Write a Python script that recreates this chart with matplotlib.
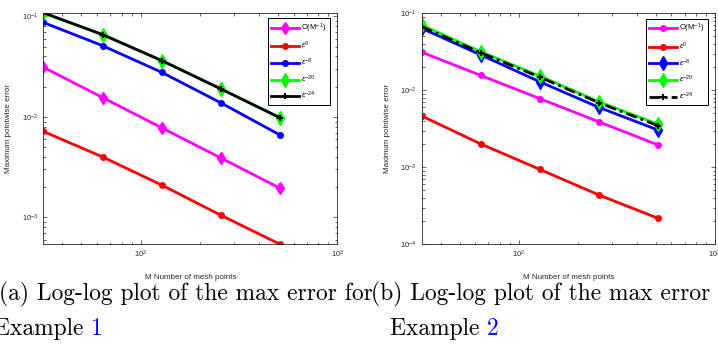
import matplotlib
matplotlib.use("Agg")
import matplotlib.pyplot as plt
from matplotlib.ticker import LogLocator, NullFormatter

plt.rcParams['font.family'] = ['Liberation Sans', 'DejaVu Sans']
plt.rcParams['mathtext.fontset'] = 'custom'
plt.rcParams['mathtext.rm'] = 'Liberation Sans'
plt.rcParams['mathtext.it'] = 'Liberation Sans:italic'

# ---- data ----
M = [32, 64, 128, 256, 512]

ex1_order = [0.03125, 0.0156, 0.0078, 0.0039, 0.00195]
ex1_eps0 = [0.00718, 0.0040, 0.0021, 0.00105, 0.00054]
ex1_eps8 = [0.0872, 0.0512, 0.0278, 0.0138, 0.0066]
ex1_eps20 = [0.108, 0.066, 0.0364, 0.0190, 0.0098]
ex1_eps24 = [0.109, 0.066, 0.0364, 0.0190, 0.0098]

ex2_order = [0.03125, 0.0156, 0.0078, 0.0039, 0.00195]
ex2_eps0 = [0.00464, 0.00201, 0.00094, 0.000437, 0.000218]
ex2_eps8 = [0.0638, 0.0288, 0.0129, 0.0060, 0.00305]
ex2_eps20 = [0.0705, 0.0317, 0.01535, 0.0071, 0.00363]
ex2_eps24 = [0.067, 0.0308, 0.0148, 0.0069, 0.00347]

labels = [r'O(M$^{-1}$)', r'$\epsilon^{0}$', r'$\epsilon^{-8}$', r'$\epsilon^{-20}$', r'$\epsilon^{-24}$']
xlabel = 'M Number of mesh points'
ylabel = 'Maximum pointwise error'
caption_a = '(a) Log-log plot of the max error for'
caption_b = '(b) Log-log plot of the max error for'

W, H = 718, 353
fig = plt.figure(figsize=(W / 100, H / 100), dpi=100)

def px_axes(x0, y0, x1, y1):
    return fig.add_axes([x0 / W, 1 - y1 / H, (x1 - x0) / W, (y1 - y0) / H])

axc = '#262626'

def style(ax):
    ax.set_xscale('log')
    ax.set_yscale('log')
    for s in ax.spines.values():
        s.set_linewidth(0.6)
        s.set_color(axc)
    ax.tick_params(which='both', direction='in', top=True, right=True,
                   colors=axc, labelsize=5.5, width=0.5)
    ax.tick_params(which='major', length=3)
    ax.tick_params(which='minor', length=1.8)
    ax.xaxis.set_minor_locator(LogLocator(base=10, subs=range(2, 10)))
    ax.yaxis.set_minor_locator(LogLocator(base=10, subs=range(2, 10)))
    ax.xaxis.set_minor_formatter(NullFormatter())
    ax.yaxis.set_minor_formatter(NullFormatter())
    ax.set_xlabel(xlabel, fontsize=5.8, color=axc, labelpad=10)
    ax.set_ylabel(ylabel, fontsize=5.8, color=axc, labelpad=7)

lw = 2.0
# ---- left ----
ax1 = px_axes(43.3, 12.7, 337.3, 244.3)
ax1.plot(M, ex1_order, color=(1, 0, 1), lw=lw, marker='d', ms=6, label=labels[0])
ax1.plot(M, ex1_eps0, color=(1, 0, 0), lw=lw, marker='o', ms=4, label=labels[1])
ax1.plot(M, ex1_eps8, color=(0, 0, 1), lw=lw, marker='o', ms=4, label=labels[2])
ax1.plot(M, ex1_eps20, color=(0, 1, 0), lw=lw, marker='d', ms=7, label=labels[3])
ax1.plot(M, ex1_eps24, color='k', lw=lw, marker='+', ms=5, mew=1.5, label=labels[4])
ax1.set_xlim(32, 1000)
ax1.set_ylim(min(ex1_eps0), max(ex1_eps24))
style(ax1)

# ---- right ----
ax2 = px_axes(421.7, 13.3, 715, 244.3)
ax2.plot(M, ex2_order, color=(1, 0, 1), lw=lw, marker='o', ms=4, label=labels[0])
ax2.plot(M, ex2_eps0, color=(1, 0, 0), lw=lw, marker='o', ms=4, label=labels[1])
ax2.plot(M, ex2_eps8, color=(0, 0, 1), lw=lw, marker='d', ms=7, label=labels[2])
ax2.plot(M, ex2_eps20, color=(0, 1, 0), lw=lw, marker='d', ms=7, label=labels[3])
ax2.plot(M, ex2_eps24, color='k', lw=lw, ls=(0, (4, 1.5, 1, 1.5)), marker='+', ms=5, mew=1.5,
         label=labels[4])
ax2.set_xlim(32, 1000)
ax2.set_ylim(1e-4, 1e-1)
style(ax2)

for ax in (ax1, ax2):
    leg = ax.legend(loc='upper right', bbox_to_anchor=(0.975, 0.977), borderaxespad=0,
                    fontsize=5.5, handlelength=3.6, labelspacing=0.7, handletextpad=0.3,
                    borderpad=0.45, fancybox=False, framealpha=1, edgecolor='k')
    leg.get_frame().set_linewidth(0.7)

# ---- captions ----
cap = dict(family='cmr10', fontsize=16.9, color='k', va='baseline')
y1, y2 = 1 - 300 / H, 1 - 335 / H
fig.text(-1 / W, y1, caption_a, **cap)
fig.text(371 / W, y1, caption_b, **cap)

r = fig.canvas.get_renderer()
for x0, num in ((-6, '1'), (390, '2')):
    t = fig.text(x0 / W, y2, 'Example ', **cap)
    bb = t.get_window_extent(renderer=r)
    fig.text(bb.x1 / W, y2, num, **{**cap, 'color': (0, 0, 1)})

fig.savefig('out.png', dpi=100)
